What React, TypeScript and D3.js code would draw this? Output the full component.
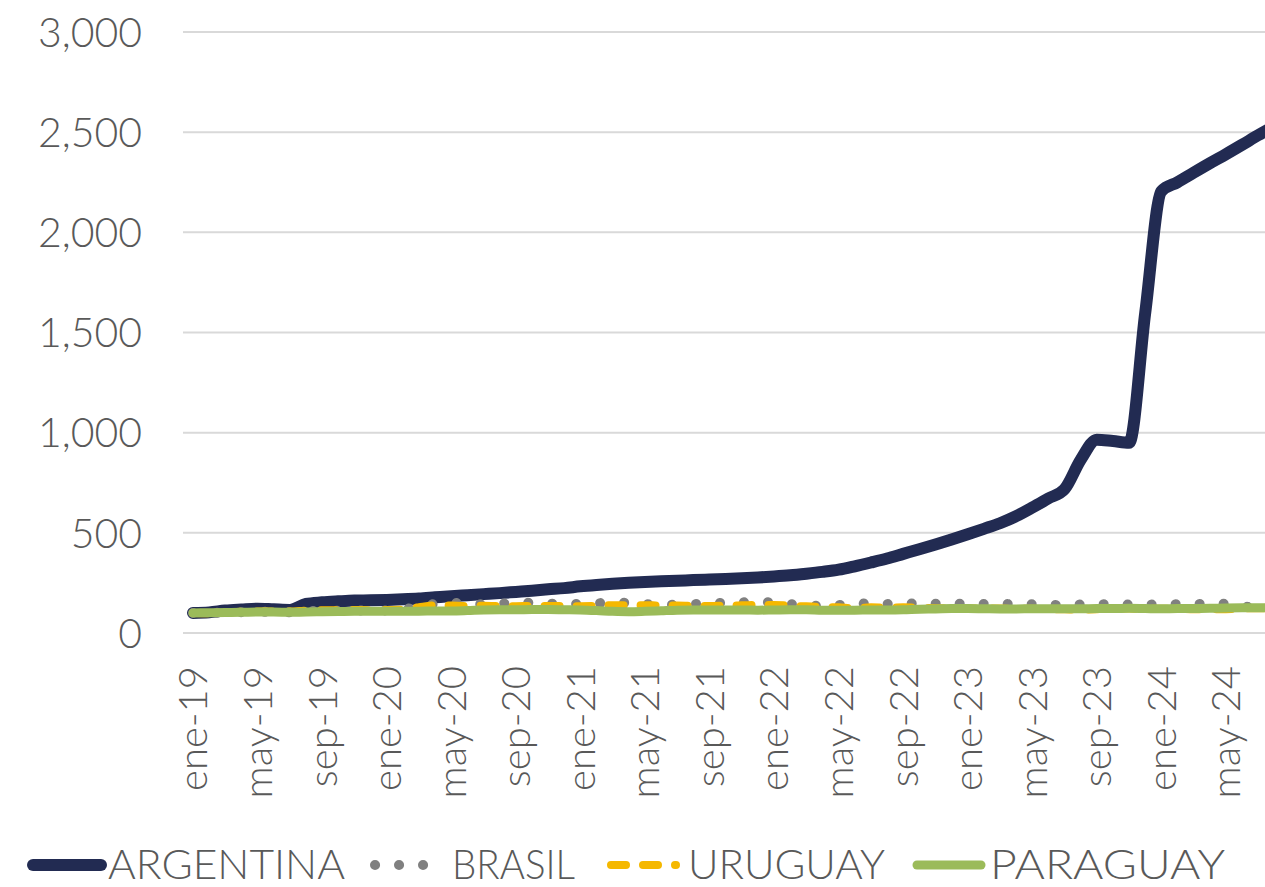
import * as d3 from 'd3';

// Índice base ene-19 = 100
const MONTHS = ['ene', 'feb', 'mar', 'abr', 'may', 'jun', 'jul', 'ago', 'sep', 'oct', 'nov', 'dic'];
const YEARS = ['19', '20', '21', '22', '23', '24'];
const CATEGORIES = YEARS.flatMap((y) => MONTHS.map((m) => `${m}-${y}`)).slice(0, 68);

const ARGENTINA = [
  100, 103, 112, 117, 121, 118, 115, 145, 153, 158, 162, 163,
  165, 168, 172, 178, 184, 189, 194, 199, 205, 211, 218, 224,
  233, 240, 246, 251, 255, 258, 261, 264, 267, 270, 273, 277,
  282, 288, 296, 305, 316, 333, 352, 372, 395, 418, 442, 467,
  493, 520, 548, 583, 626, 672, 718, 865, 965, 958, 950, 1600,
  2205, 2250, 2298, 2345, 2390, 2437, 2485, 2530,
];
const BRASIL = [
  100, 100, 103, 104, 107, 104, 103, 108, 111, 111, 113, 112,
  113, 118, 132, 145, 152, 142, 144, 148, 147, 152, 148, 142,
  146, 148, 153, 150, 145, 140, 142, 145, 146, 152, 153, 155,
  152, 144, 140, 135, 140, 142, 150, 145, 147, 147, 146, 146,
  146, 145, 146, 143, 143, 141, 140, 142, 143, 145, 142, 142,
  143, 144, 144, 146, 146, 132, 130, 130,
];
const URUGUAY = [
  100, 99, 102, 106, 107, 107, 107, 112, 114, 114, 115, 114,
  115, 116, 129, 138, 137, 135, 136, 134, 134, 135, 135, 134,
  134, 135, 139, 139, 139, 137, 137, 135, 135, 137, 138, 140,
  140, 136, 133, 130, 128, 124, 128, 127, 128, 126, 124, 124,
  123, 122, 122, 121, 121, 119, 118, 117, 119, 123, 122, 121,
  121, 121, 119, 119, 119, 122, 124, 124,
];
const PARAGUAY = [
  100, 101, 102, 103, 105, 105, 103, 105, 106, 107, 108, 108,
  108, 109, 109, 110, 110, 112, 115, 116, 116, 117, 117, 116,
  115, 112, 108, 106, 108, 111, 114, 115, 115, 115, 115, 114,
  115, 116, 116, 114, 114, 114, 115, 115, 116, 119, 120, 122,
  122, 121, 120, 120, 121, 121, 121, 121, 122, 122, 123, 122,
  121, 122, 122, 123, 125, 126, 126, 127,
];
const Y_TICKS = [0, 500, 1000, 1500, 2000, 2500, 3000];
const X_LABEL_EVERY = 4;

const W = 1265;
const H = 887;
const TEXT = '#595959';
const FONT = "'Lato', 'Open Sans', sans-serif";

const series = [
  { name: 'ARGENTINA', values: ARGENTINA, color: '#222B52', width: 12, dash: undefined },
  { name: 'BRASIL', values: BRASIL, color: '#808080', width: 10, dash: '0.1 23.9' },
  { name: 'URUGUAY', values: URUGUAY, color: '#F5B800', width: 8, dash: '15 17' },
  { name: 'PARAGUAY', values: PARAGUAY, color: '#9BBB59', width: 9, dash: undefined },
];

// legend swatch / text placement
const legend = [
  { x1: 33, x2: 101, tx: 108, tl: 237 },
  { x1: 375, x2: 425, tx: 452, tl: 123 },
  { x1: 611, x2: 676, tx: 688, tl: 197 },
  { x1: 917, x2: 981, tx: 990, tl: 235 },
];

export default function App() {
  const plotLeft = 183;
  const firstX = 193;
  const step = 16.14;
  const x = d3
    .scalePoint<string>()
    .domain(CATEGORIES)
    .range([firstX, firstX + step * (CATEGORIES.length - 1)]);
  const y = d3.scaleLinear().domain([0, 3000]).range([633, 32]);
  const fmt = d3.format(',');

  const line = d3
    .line<number>()
    .x((_, i) => x(CATEGORIES[i]) ?? 0)
    .y((d) => y(d))
    .curve(d3.curveMonotoneX);

  return (
    <svg
      width={W}
      height={H}
      style={{ position: 'absolute', left: 0, top: 0, background: '#fff' }}
      fontFamily={FONT}
    >
      {/* gridlines */}
      {Y_TICKS.map((t) => (
        <line key={t} x1={plotLeft} x2={W} y1={y(t)} y2={y(t)} stroke="#D9D9D9" strokeWidth={2} />
      ))}

      {/* y labels */}
      {Y_TICKS.map((t) => (
        <text
          key={`yl${t}`}
          x={142}
          y={y(t)}
          dy="0.36em"
          textAnchor="end"
          fontSize={41}
          fontWeight={300}
          fill={TEXT}
        >
          {fmt(t)}
        </text>
      ))}

      {/* x labels */}
      {CATEGORIES.filter((_, i) => i % X_LABEL_EVERY === 0).map((c) => (
        <text
          key={c}
          transform={`translate(${x(c)},666) rotate(-90)`}
          dy="0.36em"
          textAnchor="end"
          fontSize={40}
          fontWeight={300}
          fill={TEXT}
        >
          {c}
        </text>
      ))}

      {/* series */}
      {series.map((s) => (
        <path
          key={s.name}
          d={line(s.values) ?? ''}
          fill="none"
          stroke={s.color}
          strokeWidth={s.width}
          strokeDasharray={s.dash}
          strokeLinecap="round"
          strokeLinejoin="round"
        />
      ))}

      {/* legend */}
      {series.map((s, i) => (
        <g key={`lg${s.name}`}>
          <line
            x1={legend[i].x1}
            x2={legend[i].x2}
            y1={865}
            y2={865}
            stroke={s.color}
            strokeWidth={s.width}
            strokeDasharray={s.dash}
            strokeLinecap="round"
          />
          <text
            x={legend[i].tx}
            y={879}
            fontSize={42}
            fontWeight={300}
            fill={TEXT}
            textLength={legend[i].tl}
            lengthAdjust="spacingAndGlyphs"
          >
            {s.name}
          </text>
        </g>
      ))}
    </svg>
  );
}
